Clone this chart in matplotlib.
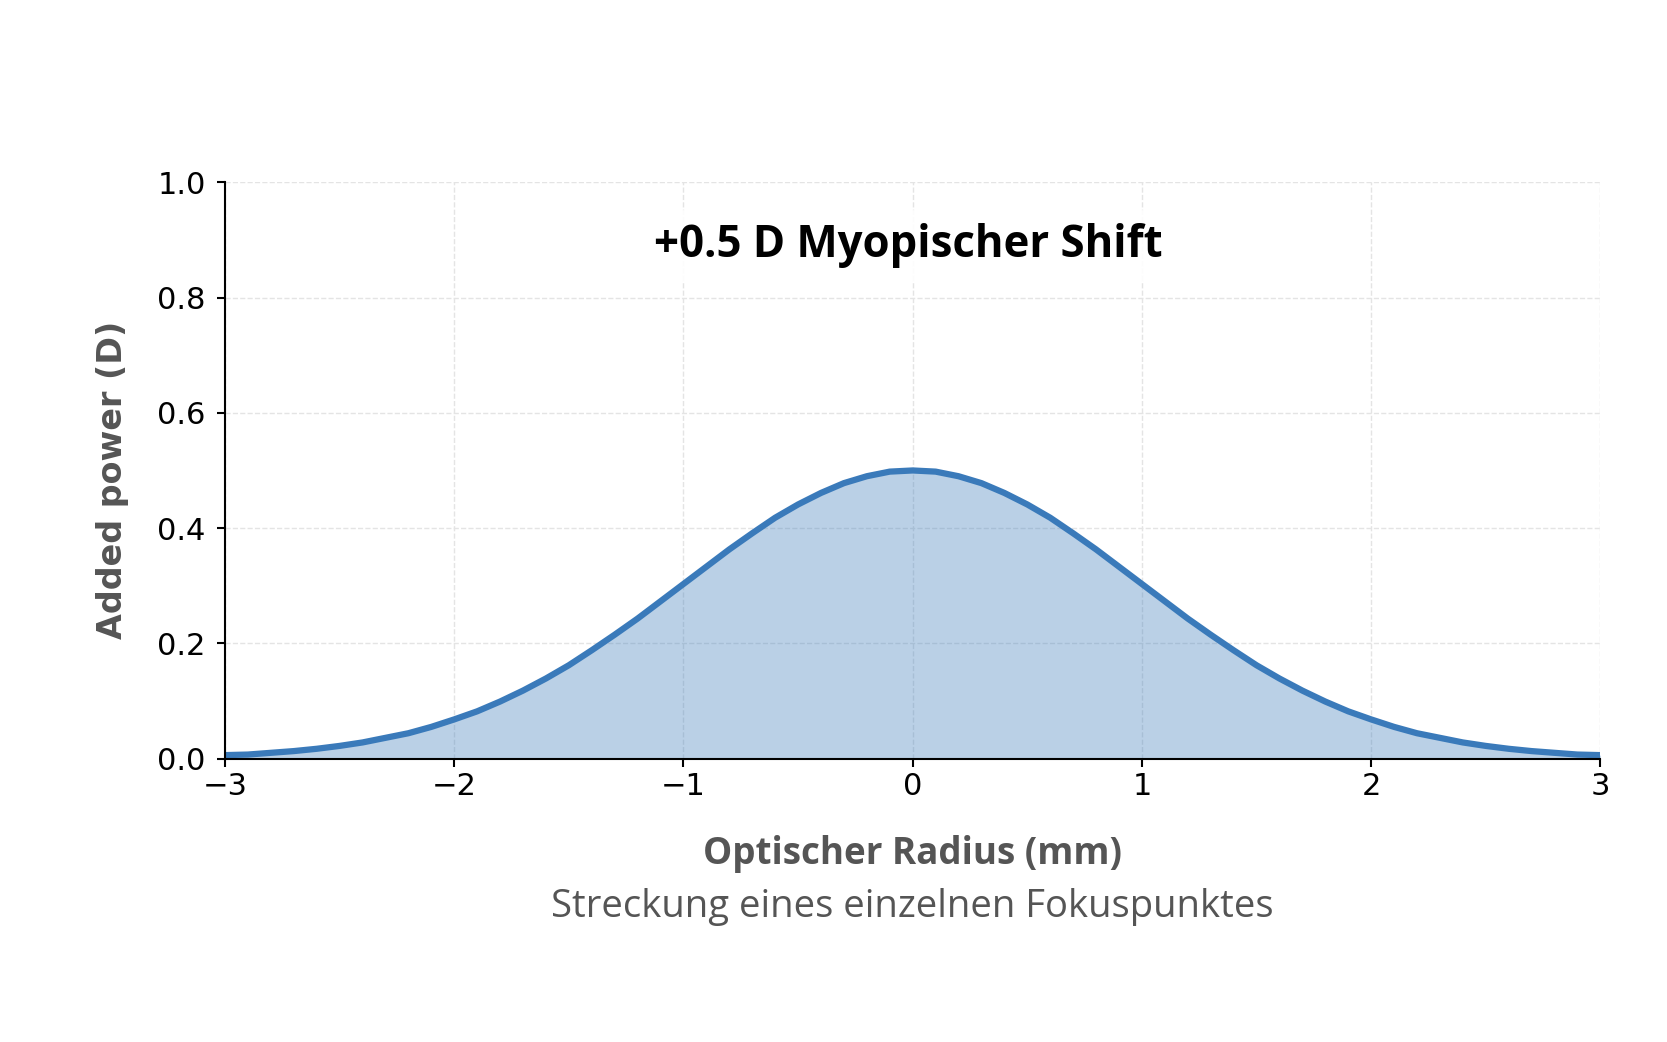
import matplotlib
matplotlib.use("Agg")
import matplotlib.pyplot as plt

# values (0.1 mm steps)
radius = [-3.0, -2.9, -2.8, -2.7, -2.6, -2.5, -2.4, -2.3, -2.2, -2.1,
          -2.0, -1.9, -1.8, -1.7, -1.6, -1.5, -1.4, -1.3, -1.2, -1.1,
          -1.0, -0.9, -0.8, -0.7, -0.6, -0.5, -0.4, -0.3, -0.2, -0.1,
          0.0, 0.1, 0.2, 0.3, 0.4, 0.5, 0.6, 0.7, 0.8, 0.9,
          1.0, 1.1, 1.2, 1.3, 1.4, 1.5, 1.6, 1.7, 1.8, 1.9,
          2.0, 2.1, 2.2, 2.3, 2.4, 2.5, 2.6, 2.7, 2.8, 2.9, 3.0]
power = [0.006, 0.007, 0.010, 0.013, 0.017, 0.022, 0.028, 0.036, 0.044, 0.055,
         0.068, 0.082, 0.099, 0.118, 0.139, 0.162, 0.188, 0.215, 0.243, 0.273,
         0.303, 0.333, 0.363, 0.391, 0.418, 0.441, 0.461, 0.478, 0.490, 0.498,
         0.500, 0.498, 0.490, 0.478, 0.461, 0.441, 0.418, 0.391, 0.363, 0.333,
         0.303, 0.273, 0.243, 0.215, 0.188, 0.162, 0.139, 0.118, 0.099, 0.082,
         0.068, 0.055, 0.044, 0.036, 0.028, 0.022, 0.017, 0.013, 0.010, 0.007, 0.006]

x_ticks = [-3, -2, -1, 0, 1, 2, 3]
y_ticks = [0.0, 0.2, 0.4, 0.6, 0.8, 1.0]

title = "+0.5 D Myopischer Shift"
x_label = "Optischer Radius (mm)"
y_label = "Added power (D)"
subtitle = "Streckung eines einzelnen Fokuspunktes"

line_color = "#3a7aba"
label_color = "#555555"
text_font = ["Open Sans", "DejaVu Sans"]

fig = plt.figure(figsize=(16.67, 10.42), dpi=100)
ax = fig.add_axes([0.135, 0.272, 0.825, 0.553])

ax.fill_between(radius, power, 0, color=line_color, alpha=0.35, lw=0)
ax.plot(radius, power, color=line_color, lw=4.5, solid_capstyle="butt",
        solid_joinstyle="round")

ax.set_xlim(-3, 3)
ax.set_ylim(0, 1)
ax.set_xticks(x_ticks)
ax.set_yticks(y_ticks)
ax.set_yticklabels([f"{v:.1f}" for v in y_ticks])
ax.tick_params(labelsize=22, length=6, width=1.5, colors="black")
ax.tick_params(axis="y", pad=8)

ax.grid(True, ls="--", lw=1, color="#e4e4e4")
ax.set_axisbelow(True)
for side in ["top", "right"]:
    ax.spines[side].set_visible(False)
for side in ["left", "bottom"]:
    ax.spines[side].set_linewidth(1.5)

ax.set_ylabel(y_label, fontsize=24, fontweight="bold", color=label_color,
              family="DejaVu Sans", va="center")
ax.yaxis.set_label_coords(-0.082, 0.483)
ax.set_xlabel(x_label, fontsize=26.5, fontweight="bold", color=label_color,
              family=text_font, va="center")
ax.xaxis.set_label_coords(0.5, -0.165)
ax.text(0.5, -0.258, subtitle, transform=ax.transAxes, ha="center", va="center",
        fontsize=27.5, color=label_color, family=text_font)

ax.text(-0.02, 0.89, title, ha="center", va="center", fontsize=31.5,
        fontweight="bold", color="black", family=text_font,
        bbox=dict(boxstyle="round,pad=0.3", fc="white", ec="none", alpha=0.9))

fig.savefig("out.png", dpi=100, facecolor="white")
